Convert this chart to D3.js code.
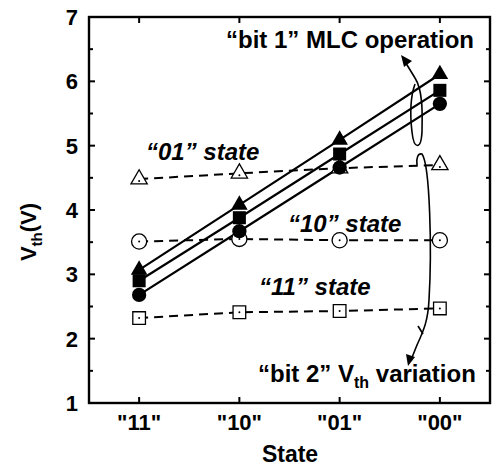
<!DOCTYPE html>
<html>
<head>
<meta charset="utf-8">
<script src="https://cdn.jsdelivr.net/npm/d3@7"></script>
<style>
  html, body { margin: 0; padding: 0; background: #fff; }
  svg { display: block; font-family: Arial, "Liberation Sans", sans-serif; }
</style>
</head>
<body>
<svg id="chart" width="502" height="467"></svg>
<script>
// Program states along the x axis
const states = ['"11"', '"10"', '"01"', '"00"'];

// "bit 1" MLC operation (filled markers, solid lines)
const bit1Triangle = [3.07, 4.08, 5.09, 6.11];
const bit1Square   = [2.90, 3.88, 4.87, 5.86];
const bit1Circle   = [2.68, 3.67, 4.66, 5.65];

// "bit 2" Vth variation (open markers, dashed lines)
const state01 = [4.48, 4.57, 4.65, 4.70];
const state10 = [3.51, 3.55, 3.53, 3.53];
const state11 = [2.32, 2.41, 2.43, 2.47];

const yTicks = [1, 2, 3, 4, 5, 6, 7];
const yMinor = [1.5, 2.5, 3.5, 4.5, 5.5, 6.5];

const svg = d3.select("#chart");
const plotL = 89, plotR = 490, plotT = 17, plotB = 403;

const x = d3.scaleLinear().domain([-0.5, 3.5]).range([plotL, plotR]);
const y = d3.scaleLinear().domain([1, 7]).range([plotB, plotT]);

// ticks (inward) on all four sides
const tickG = svg.append("g").attr("stroke", "#000").attr("stroke-width", 2);
yTicks.forEach(v => {
  tickG.append("line").attr("x1", plotL).attr("x2", plotL + 6).attr("y1", y(v)).attr("y2", y(v));
  tickG.append("line").attr("x1", plotR).attr("x2", plotR - 6).attr("y1", y(v)).attr("y2", y(v));
});
yMinor.forEach(v => {
  tickG.append("line").attr("x1", plotL).attr("x2", plotL + 4).attr("y1", y(v)).attr("y2", y(v));
  tickG.append("line").attr("x1", plotR).attr("x2", plotR - 4).attr("y1", y(v)).attr("y2", y(v));
});
states.forEach((s, i) => {
  tickG.append("line").attr("x1", x(i)).attr("x2", x(i)).attr("y1", plotB).attr("y2", plotB - 6);
  tickG.append("line").attr("x1", x(i)).attr("x2", x(i)).attr("y1", plotT).attr("y2", plotT + 6);
});

// frame
svg.append("rect").attr("x", plotL).attr("y", plotT)
  .attr("width", plotR - plotL).attr("height", plotB - plotT)
  .attr("fill", "none").attr("stroke", "#000").attr("stroke-width", 2.4);

// tick labels
svg.append("g").selectAll("text").data(yTicks).join("text")
  .attr("x", 78).attr("y", d => y(d) + 8)
  .attr("text-anchor", "end").attr("font-size", 22).attr("font-weight", "bold")
  .text(d => d);
svg.append("g").selectAll("text").data(states).join("text")
  .attr("x", (d, i) => x(i)).attr("y", 430)
  .attr("text-anchor", "middle").attr("font-size", 22).attr("font-weight", "bold")
  .text(d => d);

// axis titles
svg.append("text").attr("x", 290).attr("y", 462)
  .attr("text-anchor", "middle").attr("font-size", 23).attr("font-weight", "bold").text("State");
const yt = svg.append("text").attr("transform", "translate(36,232) rotate(-90)")
  .attr("text-anchor", "middle").attr("font-size", 22).attr("font-weight", "bold");
yt.append("tspan").text("V");
yt.append("tspan").attr("font-size", 15).attr("dy", 6).text("th");
yt.append("tspan").attr("dy", -6).text("(V)");

const line = d3.line().x((d, i) => x(i)).y(d => y(d));

// dashed bit-2 lines
[state01, state10, state11].forEach(s => {
  svg.append("path").attr("d", line(s)).attr("fill", "none")
    .attr("stroke", "#000").attr("stroke-width", 2).attr("stroke-dasharray", "9,6");
});

// solid bit-1 lines
[bit1Triangle, bit1Square, bit1Circle].forEach(s => {
  svg.append("path").attr("d", line(s)).attr("fill", "none")
    .attr("stroke", "#000").attr("stroke-width", 2.2);
});

// open markers with centre dot
function openMarker(series, shape, size) {
  const g = svg.append("g");
  series.forEach((v, i) => {
    g.append("path")
      .attr("transform", `translate(${x(i)},${y(v)})`)
      .attr("d", d3.symbol().type(shape).size(size)())
      .attr("fill", "#fff").attr("stroke", "#000").attr("stroke-width", 1.3);
    g.append("circle").attr("cx", x(i)).attr("cy", y(v) + (shape === d3.symbolTriangle ? 2 : 0))
      .attr("r", 1).attr("fill", "#000");
  });
}
openMarker(state01, d3.symbolTriangle, 115);
openMarker(state10, d3.symbolCircle, 180);
openMarker(state11, d3.symbolSquare, 160);

// filled bit-1 markers
function filledMarker(series, shape, size) {
  svg.append("g").selectAll("path").data(series).join("path")
    .attr("transform", (d, i) => `translate(${x(i)},${y(d)})`)
    .attr("d", d3.symbol().type(shape).size(size)())
    .attr("fill", "#000");
}
filledMarker(bit1Circle, d3.symbolCircle, 160);
filledMarker(bit1Square, d3.symbolSquare, 170);
filledMarker(bit1Triangle, d3.symbolTriangle, 120);

// annotations
const ann = svg.append("g").attr("font-weight", "bold").attr("font-size", 24);
ann.append("text").attr("x", 226).attr("y", 48).text("\u201Cbit 1\u201D MLC operation");
ann.append("text").attr("x", 146).attr("y", 160).attr("font-style", "italic").text("\u201C01\u201D state");
ann.append("text").attr("x", 288).attr("y", 232).attr("font-style", "italic").text("\u201C10\u201D state");
ann.append("text").attr("x", 259).attr("y", 295).attr("font-style", "italic").text("\u201C11\u201D state");
const b2 = ann.append("text").attr("x", 258).attr("y", 382);
b2.append("tspan").text("\u201Cbit 2\u201D V");
b2.append("tspan").attr("font-size", 16).attr("dy", 6).text("th");
b2.append("tspan").attr("dy", -6).text(" variation");

// curved pointers
const arrows = svg.append("g").attr("fill", "none").attr("stroke", "#000").attr("stroke-width", 1.6);
arrows.append("path")
  .attr("d", "M404,60 L415,78 C424,92 422,120 422,132 C421,150 414,150 412,132 C410,115 410,98 415,84");
arrows.append("path")
  .attr("d", "M417,165 C416,158 418,153 422,154 C430,165 432,250 429,300 C428,320 424,330 417,345 L411,360");
arrows.append("path").attr("d", "M418,326 L423,334");
// arrow heads
const heads = svg.append("g").attr("fill", "#000");
heads.append("path").attr("d", "M401,55 L412,61 L404,67 Z");
heads.append("path").attr("d", "M408,366 L406,354 L415,357 Z");
</script>
</body>
</html>
